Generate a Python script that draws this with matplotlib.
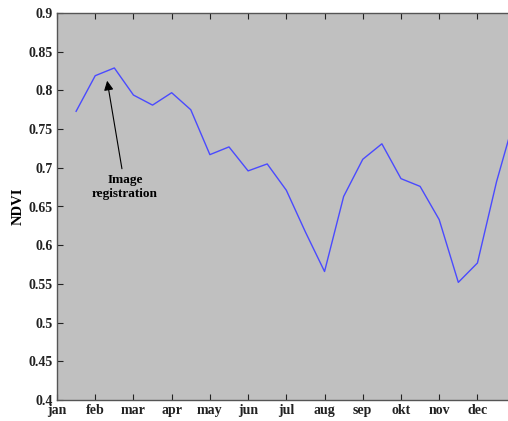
import numpy as np
import matplotlib.pyplot as plt

months = ['jan', 'feb', 'mar', 'apr', 'may', 'jun', 'jul', 'aug', 'sep', 'okt', 'nov', 'dec']
t = np.array([0.5, 1.0, 1.5, 2.0, 2.5, 3.0, 3.5, 4.0, 4.5, 5.0, 5.5, 6.0,
              6.5, 7.0, 7.5, 8.0, 8.5, 9.0, 9.5, 10.0, 10.5, 11.0, 11.5, 12.0])
ndvi = np.array([0.773, 0.819, 0.829, 0.794, 0.781, 0.797, 0.775, 0.717, 0.727, 0.696, 0.705, 0.671,
                 0.617, 0.566, 0.663, 0.711, 0.731, 0.686, 0.676, 0.633, 0.552, 0.577, 0.682, 0.769])
yticks = [0.4, 0.45, 0.5, 0.55, 0.6, 0.65, 0.7, 0.75, 0.8, 0.85, 0.9]

plt.rcParams['font.family'] = ['Liberation Serif', 'DejaVu Serif']
plt.rcParams['font.weight'] = 'bold'

fig = plt.figure(figsize=(5.08, 4.21), dpi=100)
ax = fig.add_axes([57 / 508, 21 / 421, 1 - 57 / 508, 387 / 421])
ax.set_facecolor('#c0c0c0')

ax.plot(t, ndvi, color='#4a4aff', lw=1.0)

ax.annotate('Image\nregistration', xy=(1.30, 0.816), xytext=(1.78, 0.675),
            ha='center', va='center', fontsize=9.5, fontweight='bold',
            arrowprops=dict(arrowstyle='-|>', color='black', lw=0.8, mutation_scale=14))

ax.set_xlim(0, 11.8)
ax.set_ylim(0.4, 0.9)
ax.set_xticks(range(12))
ax.set_xticklabels(months)
ax.set_yticks(yticks)
ax.set_yticklabels([f'{v:g}' for v in yticks])
ax.tick_params(direction='in', length=4, width=0.8, labelsize=10, colors='#222222',
               top=True, right=False, pad=3)
ax.set_ylabel('NDVI', fontsize=10.5, fontweight='bold', labelpad=3)
for s in ['left', 'bottom', 'top']:
    ax.spines[s].set_color('#555555')
    ax.spines[s].set_linewidth(1.0)
ax.spines['right'].set_visible(False)

fig.savefig('out.png', dpi=100)
